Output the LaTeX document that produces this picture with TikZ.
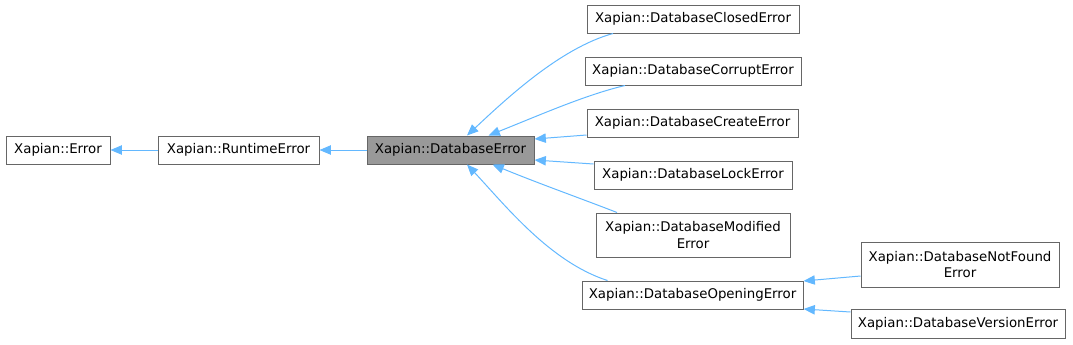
\documentclass[tikz,border=0pt]{standalone}
\usepackage{fontspec}
\setmainfont{DejaVu Sans}
\usetikzlibrary{arrows.meta,calc}
\definecolor{boxline}{HTML}{666666}
\definecolor{boxfill}{HTML}{999999}
\definecolor{edgecol}{HTML}{63B8FF}
\begin{document}
\begin{tikzpicture}[x=0.75pt,y=-0.75pt,
  cls/.style={draw=boxline,line width=0.75pt,fill=white,inner sep=0pt,align=center,
    font=\fontsize{10}{12.5}\selectfont},
  cur/.style={cls,fill=boxfill},
  edge/.style={draw=edgecol,line width=0.75pt,{Triangle[length=8.5pt,width=7pt]}-}]
\useasboundingbox (0,0) rectangle (1073,344);
\node[cls,minimum width=104*0.75pt,minimum height=28*0.75pt] (err) at (58,150) {Xapian::Error};
\node[cls,minimum width=161*0.75pt,minimum height=28*0.75pt] (rt) at (238.5,150) {Xapian::RuntimeError};
\node[cur,minimum width=167*0.75pt,minimum height=28*0.75pt] (db) at (450.5,150) {Xapian::DatabaseError};
\node[cls,minimum width=212*0.75pt,minimum height=28*0.75pt] (closed) at (693,19) {Xapian::DatabaseClosedError};
\node[cls,minimum width=216*0.75pt,minimum height=28*0.75pt] (corrupt) at (693,71) {Xapian::DatabaseCorruptError};
\node[cls,minimum width=211*0.75pt,minimum height=28*0.75pt] (create) at (692.5,123) {Xapian::DatabaseCreateError};
\node[cls,minimum width=198*0.75pt,minimum height=28*0.75pt] (lock) at (693,175) {Xapian::DatabaseLockError};
\node[cls,minimum width=194*0.75pt,minimum height=44*0.75pt] (modified) at (693,235) {Xapian::DatabaseModified\\Error};
\node[cls,minimum width=221*0.75pt,minimum height=28*0.75pt] (opening) at (692.5,295) {Xapian::DatabaseOpeningError};
\node[cls,minimum width=198*0.75pt,minimum height=45*0.75pt] (notfound) at (960,264.5) {Xapian::DatabaseNotFound\\Error};
\node[cls,minimum width=214*0.75pt,minimum height=29*0.75pt] (version) at (958,323.5) {Xapian::DatabaseVersionError};
% edges
\draw[edge] (err.east) -- (rt.west);
\draw[edge] (rt.east) -- (db.west);
\draw[edge] ($(db.north)+(16.5,0)$) .. controls (505,100) and (560,48) .. ($(closed.south)+(-80,0)$);
\draw[edge] ($(db.north)+(38,0)$) .. controls (540,115) and (585,95) .. ($(corrupt.south)+(-68,0)$);
\draw[edge] ($(db.east)+(0,-11)$) -- ($(create.west)+(0,12)$);
\draw[edge] ($(db.east)+(0,10)$) -- ($(lock.west)+(0,-11)$);
\draw[edge] ($(db.south)+(42,0)$) .. controls (540,184) and (585,200) .. ($(modified.north)+(-76,0)$);
\draw[edge] ($(db.south)+(16.5,0)$) .. controls (505,205) and (550,262) .. ($(opening.north)+(-85,0)$);
\draw[edge] ($(opening.east)+(0,-14)$) -- ($(notfound.west)+(0,11.5)$);
\draw[edge] ($(opening.east)+(0,14)$) -- ($(version.west)+(0,-11.5)$);
\end{tikzpicture}
\end{document}
